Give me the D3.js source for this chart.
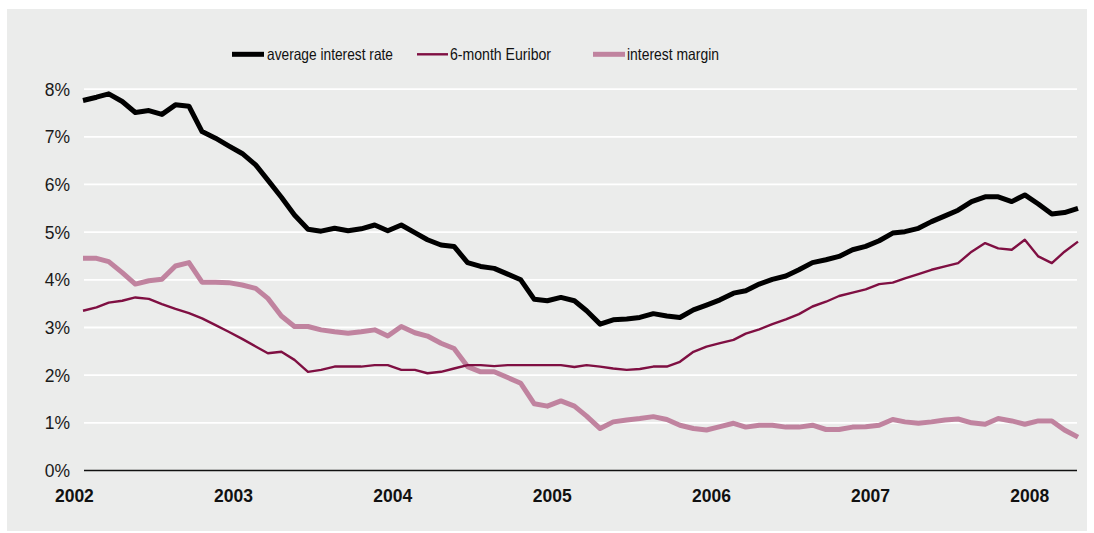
<!DOCTYPE html>
<html>
<head>
<meta charset="utf-8">
<script src="https://cdn.jsdelivr.net/npm/d3@7"></script>
<style>
  html, body { margin: 0; padding: 0; background: #ffffff; }
  svg { display: block; font-family: "Liberation Sans", Arial, Helvetica, sans-serif; }
</style>
</head>
<body>
<svg id="chart" width="1094" height="533"></svg>
<script>
// Monthly series, January 2002 – April 2008 (values in percent)
const startMonth = "2002-01";
const averageRate = [
  7.76, 7.83, 7.90, 7.74, 7.51, 7.55, 7.47, 7.67, 7.64, 7.11, 6.97, 6.81,
  6.65, 6.41, 6.09, 5.73, 5.36, 5.06, 5.02, 5.08, 5.03, 5.07, 5.15, 5.03,
  5.15, 4.99, 4.84, 4.73, 4.70, 4.36, 4.28, 4.24, 4.12, 4.00, 3.59, 3.56,
  3.63, 3.56, 3.35, 3.07, 3.16, 3.18, 3.21, 3.29, 3.24, 3.21, 3.37, 3.47,
  3.58, 3.72, 3.77, 3.91, 4.01, 4.08, 4.21, 4.36, 4.42, 4.49, 4.63, 4.70,
  4.82, 4.98, 5.01, 5.08, 5.22, 5.34, 5.46, 5.64, 5.74, 5.74, 5.64, 5.78,
  5.59, 5.38, 5.41, 5.50
];
const euribor6m = [
  3.35, 3.42, 3.52, 3.56, 3.63, 3.60, 3.49, 3.39, 3.30, 3.19, 3.05, 2.91,
  2.76, 2.60, 2.46, 2.49, 2.32, 2.07, 2.11, 2.18, 2.18, 2.18, 2.21, 2.21,
  2.11, 2.11, 2.04, 2.07, 2.14, 2.21, 2.21, 2.19, 2.21, 2.21, 2.21, 2.21,
  2.21, 2.17, 2.21, 2.18, 2.14, 2.11, 2.13, 2.18, 2.18, 2.28, 2.49, 2.60,
  2.67, 2.74, 2.87, 2.96, 3.07, 3.17, 3.28, 3.44, 3.54, 3.66, 3.73, 3.80,
  3.91, 3.94, 4.03, 4.12, 4.21, 4.28, 4.35, 4.59, 4.77, 4.66, 4.63, 4.84,
  4.49, 4.35, 4.59, 4.80
];
const interestMargin = [
  4.45, 4.45, 4.38, 4.15, 3.91, 3.98, 4.01, 4.29, 4.36, 3.95, 3.95, 3.94,
  3.89, 3.82, 3.61, 3.24, 3.02, 3.02, 2.95, 2.91, 2.88, 2.91, 2.95, 2.82,
  3.02, 2.89, 2.82, 2.67, 2.56, 2.18, 2.07, 2.07, 1.95, 1.83, 1.40, 1.35,
  1.46, 1.35, 1.14, 0.88, 1.02, 1.06, 1.09, 1.13, 1.07, 0.95, 0.88, 0.85,
  0.92, 0.99, 0.91, 0.95, 0.95, 0.91, 0.91, 0.95, 0.86, 0.86, 0.91, 0.92,
  0.95, 1.07, 1.02, 0.99, 1.02, 1.06, 1.08, 1.00, 0.97, 1.09, 1.04, 0.97,
  1.04, 1.04, 0.85, 0.70
];
const yTicks = [0, 1, 2, 3, 4, 5, 6, 7, 8];
const yearTicks = [2002, 2003, 2004, 2005, 2006, 2007, 2008];
const seriesNames = ["average interest rate", "6-month Euribor", "interest margin"];

// Each monthly value is plotted at mid-month
const parseMonth = d3.timeParse("%Y-%m");
const firstMonth = parseMonth(startMonth);
const monthDate = i => d3.timeDay.offset(d3.timeMonth.offset(firstMonth, i), 14);
const n = averageRate.length;

const svg = d3.select("#chart");

// panel background
svg.append("rect")
  .attr("x", 7).attr("y", 9)
  .attr("width", 1080).attr("height", 522)
  .attr("fill", "#ebeceb");

const x = d3.scaleTime()
  .domain([monthDate(0), monthDate(n - 1)])
  .range([83, 1078]);
const y = d3.scaleLinear()
  .domain([0, 8])
  .range([470.5, 89.1]);

// horizontal gridlines
svg.append("g")
  .selectAll("line")
  .data(yTicks.filter(d => d > 0))
  .join("line")
  .attr("x1", 84).attr("x2", 1077)
  .attr("y1", d => y(d)).attr("y2", d => y(d))
  .attr("stroke", "#ffffff")
  .attr("stroke-width", 1.8);

// y axis labels
const yAxis = d3.axisLeft(y)
  .tickValues(yTicks)
  .tickSize(0)
  .tickPadding(0)
  .tickFormat(d => d + "%");
svg.append("g")
  .attr("transform", "translate(70,0)")
  .call(yAxis)
  .call(g => g.select(".domain").remove())
  .call(g => g.selectAll("text")
    .attr("font-family", "'Liberation Sans', Arial, sans-serif")
    .attr("font-size", 17.5)
    .attr("fill", "#1a1a1a")
    .attr("dy", "0.34em"));

// x axis: baseline plus year labels
const xAxis = d3.axisBottom(x)
  .tickValues(yearTicks.map(yr => new Date(yr, 0, 1)))
  .tickSize(0)
  .tickPadding(0)
  .tickFormat(d3.timeFormat("%Y"));
svg.append("g")
  .attr("transform", `translate(0,${y(0)})`)
  .call(xAxis)
  .call(g => g.select(".domain").remove())
  .call(g => g.selectAll("text")
    .attr("font-family", "'Liberation Sans', Arial, sans-serif")
    .attr("font-size", 17.5)
    .attr("font-weight", "bold")
    .attr("fill", "#111")
    .attr("dx", -3)
    .attr("dy", 0)
    .attr("y", 31));

svg.append("line")
  .attr("x1", 84).attr("x2", 1077)
  .attr("y1", y(0)).attr("y2", y(0))
  .attr("stroke", "#111")
  .attr("stroke-width", 1.4);

// series lines
const series = [
  { name: seriesNames[0], values: averageRate, color: "#000000", width: 5 },
  { name: seriesNames[1], values: euribor6m, color: "#7f0f42", width: 2.4 },
  { name: seriesNames[2], values: interestMargin, color: "#c0839f", width: 5 }
];

const line = d3.line()
  .x((d, i) => x(monthDate(i)))
  .y(d => y(d));

// draw margin first, then Euribor, then average rate on top
[series[2], series[1], series[0]].forEach(s => {
  svg.append("path")
    .datum(s.values)
    .attr("d", line)
    .attr("fill", "none")
    .attr("stroke", s.color)
    .attr("stroke-width", s.width)
    .attr("stroke-linejoin", "round")
    .attr("stroke-linecap", "butt");
});

// legend (condensed sans text)
const legendItems = [
  { s: series[0], x0: 232, x1: 264, tx: 267, len: 126 },
  { s: series[1], x0: 417, x1: 448, tx: 450, len: 101 },
  { s: series[2], x0: 593, x1: 625, tx: 627, len: 92 }
];
const legend = svg.append("g");
legendItems.forEach(it => {
  legend.append("line")
    .attr("x1", it.x0).attr("x2", it.x1)
    .attr("y1", 54.3).attr("y2", 54.3)
    .attr("stroke", it.s.color)
    .attr("stroke-width", it.s.width);
  legend.append("text")
    .attr("x", it.tx).attr("y", 60)
    .attr("font-family", "'Liberation Sans', Arial, sans-serif")
    .attr("font-size", 16.5)
    .attr("fill", "#111")
    .attr("textLength", it.len)
    .attr("lengthAdjust", "spacingAndGlyphs")
    .text(it.s.name);
});
</script>
</body>
</html>
